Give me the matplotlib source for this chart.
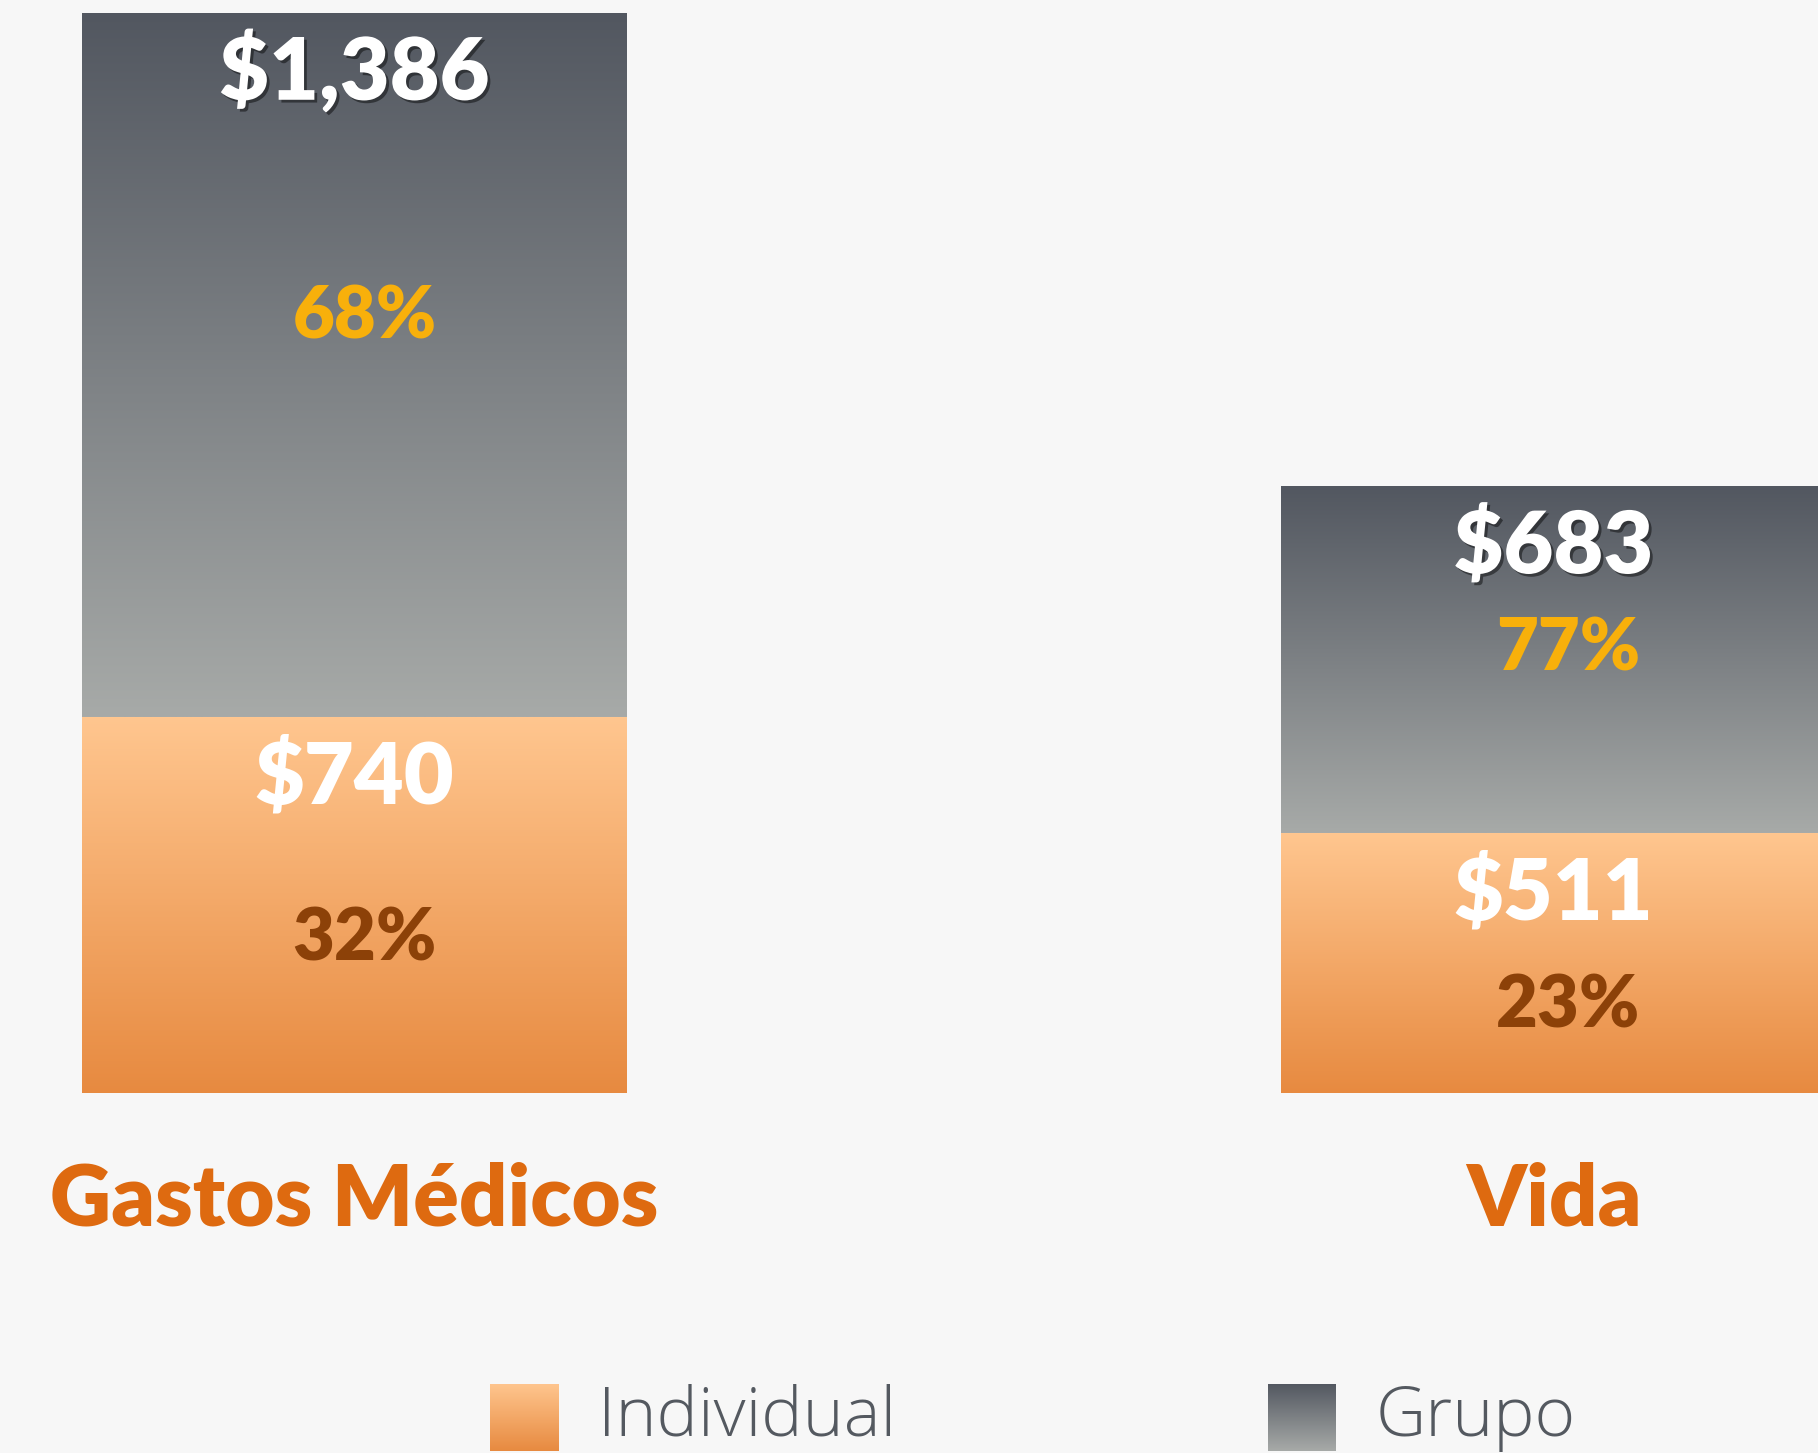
import numpy as np
import matplotlib
matplotlib.use("Agg")
import matplotlib.pyplot as plt
import matplotlib.patheffects as pe

# data
categories = ["Gastos Médicos", "Vida"]
individual = [740, 511]
grupo = [1386, 683]
pct_individual = [32, 23]
pct_grupo = [68, 77]
series_names = ["Individual", "Grupo"]

# style
bg = "#f7f7f7"
grupo_grad = ("#525760", "#a7aaa8")     # top, bottom
indiv_grad = ("#ffc68f", "#e78a40")
gold = "#f8b00b"
brown = "#8c4108"
cat_color = "#de6a10"
legend_text = "#545960"
bold_font = ["Lato", "DejaVu Sans"]
light_font = ["Open Sans", "DejaVu Sans"]

W, H = 1818, 1453
base_px = 1093          # baseline of bars, px from top
px_per_unit = 0.5081
bar_w = 545 / 1199

# label offsets in pixels below each segment top (dollar, percent)
dollar_off_ind = [-86, -86]
dollar_off_grp = [-87, -87]
pct_off_ind = [-243, -194]
pct_off_grp = [-326, -184]
pct_dx = [10, 15]


def grad_image(top, bottom, n=256):
    c1 = np.array(matplotlib.colors.to_rgb(top))
    c2 = np.array(matplotlib.colors.to_rgb(bottom))
    t = np.linspace(0, 1, n)[:, None]
    return (c1 * (1 - t) + c2 * t)[:, None, :]


def fill_gradient(ax, patch, colors):
    x0, y0 = patch.get_x(), patch.get_y()
    w, h = patch.get_width(), patch.get_height()
    im = ax.imshow(grad_image(*colors), extent=[x0, x0 + w, y0, y0 + h],
                   origin="upper", aspect="auto", zorder=2, interpolation="bilinear")
    im.set_clip_path(patch)


fig = plt.figure(figsize=(W / 100, H / 100), dpi=100, facecolor=bg)
ax = fig.add_axes([0, (H - base_px) / H, 1, base_px / H])
ax.set_facecolor(bg)
ax.axis("off")

x = np.arange(len(categories))
bars_i = ax.bar(x, individual, width=bar_w, color="none", linewidth=0)
bars_g = ax.bar(x, grupo, width=bar_w, bottom=individual, color="none", linewidth=0)
for b in bars_i:
    fill_gradient(ax, b, indiv_grad)
for b in bars_g:
    fill_gradient(ax, b, grupo_grad)

ax.set_xlim(-354.5 / 1199, (W - 354.5) / 1199)
ax.set_ylim(0, base_px / px_per_unit)

shadow = [pe.SimplePatchShadow(offset=(2, -2), shadow_rgbFace="black", alpha=0.45), pe.Normal()]

for i in range(len(categories)):
    top_i = individual[i]
    top_g = individual[i] + grupo[i]
    ax.annotate("${:,}".format(grupo[i]), (x[i], top_g), xytext=(0, dollar_off_grp[i]),
                textcoords="offset pixels", ha="center", va="baseline", color="white",
                fontsize=62, fontweight="heavy", family=bold_font, path_effects=shadow, zorder=5)
    ax.annotate("{}%".format(pct_grupo[i]), (x[i], top_g), xytext=(pct_dx[i], pct_off_grp[i]),
                textcoords="offset pixels", ha="center", va="baseline", color=gold,
                fontsize=52, fontweight="heavy", family=bold_font, zorder=5)
    ax.annotate("${:,}".format(individual[i]), (x[i], top_i), xytext=(0, dollar_off_ind[i]),
                textcoords="offset pixels", ha="center", va="baseline", color="white",
                fontsize=62, fontweight="heavy", family=bold_font, zorder=5)
    ax.annotate("{}%".format(pct_individual[i]), (x[i], top_i), xytext=(pct_dx[i], pct_off_ind[i]),
                textcoords="offset pixels", ha="center", va="baseline", color=brown,
                fontsize=52, fontweight="heavy", family=bold_font, zorder=5)
    ax.annotate(categories[i], (x[i], 0), xytext=(0, -132),
                textcoords="offset pixels", ha="center", va="baseline", color=cat_color,
                fontsize=61, fontweight="heavy", family=bold_font, annotation_clip=False)

# legend drawn by hand with gradient swatches
legend_x = [490, 1268]
legend_grads = [indiv_grad, grupo_grad]
for lx, name, g in zip(legend_x, series_names, legend_grads):
    sw = fig.add_axes([lx / W, (H - 1451) / H, 68 / W, 67 / H])
    sw.imshow(grad_image(*g), aspect="auto", extent=[0, 1, 0, 1], interpolation="bilinear")
    sw.axis("off")
    fig.text((lx + 108) / W, (H - 1436) / H, name, ha="left", va="baseline",
             color=legend_text, fontsize=50, fontweight="light", family=light_font)

fig.savefig("out.png", dpi=100, facecolor=bg)
